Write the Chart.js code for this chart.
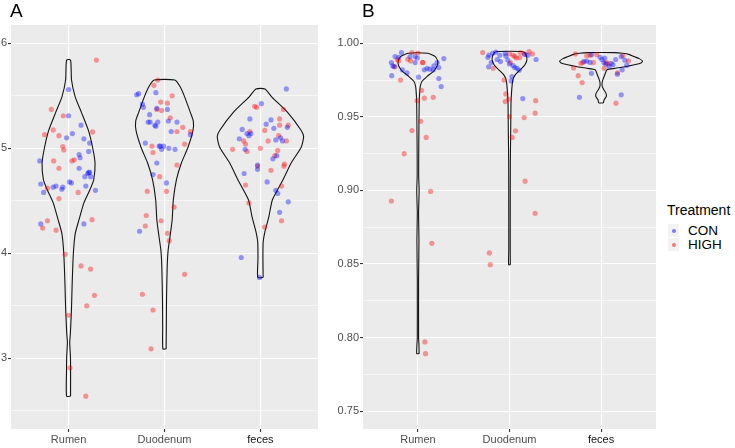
<!DOCTYPE html>
<html>
<head>
<meta charset="utf-8">
<script src="https://cdn.jsdelivr.net/npm/chart.js@4.4.1/dist/chart.umd.min.js"></script>
<style>
  body { margin: 0; background: #fff; width: 735px; height: 448px; overflow: hidden; position: relative; font-family: "Liberation Sans", Arial, sans-serif; }
  canvas { position: absolute; top: 0; }
  .tag { position: absolute; font-size: 19px; line-height: 19px; color: #000; }
  .leg { position: absolute; color: #000; white-space: nowrap; }
  .key { position: absolute; width: 11px; height: 13px; background: #f2f2f2; }
  .dot { position: absolute; left: 3.5px; top: 4.5px; width: 4px; height: 4px; border-radius: 50%; }
</style>
</head>
<body>
<canvas id="chartA" width="322" height="448" style="left:0"></canvas>
<canvas id="chartB" width="338" height="448" style="left:322px"></canvas>

<div class="tag" style="left:10px; top:1px">A</div>
<div class="tag" style="left:362px; top:1px">B</div>

<div class="leg" style="left:667px; top:203px; font-size:14px; line-height:14px">Treatment</div>
<div class="key" style="left:668px; top:224px"><span class="dot" style="background: rgba(0,0,255,0.5)"></span></div>
<div class="key" style="left:668px; top:238px"><span class="dot" style="background: rgba(255,0,0,0.5)"></span></div>
<div class="leg" style="left:688px; top:223.5px; font-size:13.5px; line-height:13.5px">CON</div>
<div class="leg" style="left:688px; top:238px; font-size:13.5px; line-height:13.5px">HIGH</div>

<script>
const groups = ['Rumen', 'Duodenum', 'feces'];

// y ticks (major) for each panel, minor gridlines halfway between
const ticksA = [3, 4, 5, 6];
const gridA = [2.5, 3, 3.5, 4, 4.5, 5, 5.5, 6];
const ticksB = [0.75, 0.80, 0.85, 0.90, 0.95, 1.00];
const gridB = [0.75, 0.775, 0.80, 0.825, 0.85, 0.875, 0.90, 0.925, 0.95, 0.975, 1.00];

// jittered points: [x position (group + jitter), value]
const conA = [
  [1.00,5.56],[1.00,5.31],[1.13,5.22],[1.04,5.14],[0.98,5.10],[1.16,5.09],[1.22,5.05],[1.21,4.97],
  [1.11,4.94],[1.12,4.91],[0.70,4.88],[1.11,4.81],[1.21,4.77],[1.22,4.77],[1.20,4.76],[1.17,4.73],
  [1.23,4.73],[1.01,4.68],[1.03,4.67],[0.71,4.66],[1.18,4.64],[0.87,4.64],[0.84,4.63],[0.94,4.63],
  [0.93,4.61],[1.28,4.60],[0.74,4.58],[0.71,4.28],[1.16,4.28],
  [1.71,5.51],[1.73,5.52],[1.91,5.53],[1.77,5.42],[1.78,5.39],[1.92,5.38],[2.03,5.37],[1.845,5.32],
  [1.83,5.25],[1.85,5.25],[1.93,5.25],[1.90,5.22],[1.91,5.21],[2.04,5.26],[2.13,5.25],[2.07,5.16],
  [2.27,5.13],[1.80,5.05],[1.945,5.02],[1.955,5.02],[1.99,5.02],[1.97,4.99],[2.045,5.00],[2.11,4.99],
  [1.92,4.86],[1.88,4.75],[2.02,4.67],[1.74,4.21],
  [3.27,5.565],[3.01,5.425],[2.89,5.28],[3.11,5.27],[3.06,5.23],[2.81,5.18],[3.14,5.19],[3.28,5.20],
  [2.86,5.14],[2.88,5.12],[2.90,5.14],[2.78,5.09],[3.16,5.08],[3.21,5.10],[3.23,5.07],[2.84,4.99],
  [3.13,4.90],[3.17,4.93],[2.97,4.84],[2.97,4.80],[2.83,4.76],[3.07,4.68],[3.16,4.60],[3.18,4.57],
  [3.29,4.49],[3.20,4.39],[2.80,3.96],[2.99,3.77]
];
const highA = [
  [1.29,5.84],[0.82,5.37],[0.945,5.31],[0.75,5.13],[0.84,5.175],[0.90,5.12],[1.25,5.156],[0.94,5.016],
  [0.95,4.984],[0.845,4.88],[1.035,4.88],[1.06,4.89],[0.90,4.81],[0.78,4.62],[1.10,4.58],[0.90,4.52],
  [0.78,4.31],[0.73,4.24],[0.87,4.22],[1.245,4.32],[0.965,3.99],[1.13,3.88],[1.23,3.85],[1.27,3.60],
  [1.19,3.50],[1.00,3.41],[1.015,2.91],[1.18,2.64],
  [1.93,5.65],[1.89,5.60],[2.08,5.50],[1.96,5.44],[2.03,5.43],[1.92,5.37],[1.97,5.36],[2.06,5.29],
  [2.19,5.20],[2.13,5.16],[2.27,5.16],[2.21,5.04],[1.87,5.02],[1.88,4.96],[2.13,4.84],[1.95,4.73],
  [1.82,4.59],[2.02,4.59],[2.10,4.44],[1.81,4.36],[1.80,4.26],[1.965,4.31],[2.03,4.19],[2.05,4.12],
  [2.21,3.80],[1.77,3.61],[1.88,3.46],[1.86,3.09],
  [2.94,5.40],[2.96,5.39],[3.24,5.37],[3.20,5.28],[3.20,5.22],[3.29,5.22],[3.045,5.17],[2.89,5.16],
  [2.825,5.07],[2.845,5.04],[3.08,5.07],[3.19,5.12],[3.27,5.07],[2.71,4.99],[3.00,5.00],[2.86,4.97],
  [3.18,4.98],[3.15,4.93],[2.97,4.83],[3.25,4.85],[3.245,4.83],[3.11,4.79],[2.845,4.65],[3.22,4.64],
  [2.88,4.48],[3.22,4.31],[3.045,4.25]
];
const conB = [
  [0.82,0.9937],[0.75,0.991],[0.79,0.9905],[0.71,0.9869],[0.725,0.9846],[0.74,0.9842],[0.97,0.991],
  [0.993,0.990],[0.913,0.991],[0.97,0.9869],[0.83,0.982],[0.88,0.980],[1.07,0.982],[1.10,0.983],
  [1.13,0.9824],[1.167,0.982],[1.174,0.9846],[1.21,0.9869],[1.228,0.9835],[1.283,0.9896],[1.007,0.977],
  [0.714,0.978],[1.228,0.976],[1.254,0.9706],
  [1.775,0.992],[1.764,0.9905],[1.815,0.9932],[1.85,0.994],[1.953,0.9932],[1.96,0.9914],[1.895,0.9919],
  [1.866,0.989],[1.902,0.9876],[1.80,0.9869],[1.772,0.984],[1.982,0.9887],[2.0,0.986],[2.04,0.9848],
  [2.058,0.9835],[2.083,0.983],[2.105,0.9817],[2.167,0.9925],[2.2,0.9919],[2.29,0.989],[2.025,0.9774],
  [2.018,0.9744],[2.145,0.9624],
  [2.895,0.9923],[2.815,0.9878],[2.844,0.9878],[2.88,0.987],[2.99,0.9905],[3.01,0.989],[3.04,0.99],
  [3.03,0.9869],[3.05,0.986],[3.11,0.9864],[3.13,0.9855],[3.16,0.989],[3.087,0.9842],[2.895,0.9796],
  [3.178,0.979],[2.764,0.9633],[3.22,0.991],[3.26,0.9885],[3.28,0.985],[3.23,0.982],[3.22,0.965]
];
const highB = [
  [0.935,0.9937],[1.0,0.9934],[0.89,0.9891],[0.92,0.988],[0.775,0.989],[0.79,0.988],[0.75,0.984],
  [1.05,0.987],[1.055,0.9869],[0.81,0.975],[1.04,0.968],[0.99,0.961],[1.07,0.9627],[1.167,0.9633],
  [1.03,0.947],[0.935,0.9407],[1.09,0.936],[0.85,0.925],[0.71,0.8928],[1.138,0.8993],[1.152,0.864],
  [1.076,0.797],[1.083,0.789],
  [1.707,0.9937],[2.0,0.9928],[2.04,0.9919],[2.12,0.9937],[2.163,0.9928],[2.214,0.9943],[2.25,0.9928],
  [2.058,0.991],[2.076,0.990],[2.112,0.9903],[2.01,0.9869],[1.822,0.983],[1.94,0.975],[1.96,0.9656],
  [1.99,0.962],[1.953,0.9604],[2.286,0.961],[2.28,0.9525],[2.0,0.9502],[2.16,0.9495],[2.065,0.9405],
  [2.03,0.936],[2.17,0.9063],[2.28,0.8844],[1.78,0.8575],[1.79,0.8495],
  [2.72,0.9928],[2.844,0.9914],[2.88,0.9919],[2.953,0.9923],[2.78,0.9864],[2.80,0.9869],[2.917,0.9869],
  [3.06,0.9869],[3.076,0.986],[2.70,0.9833],[2.75,0.978],[2.793,0.9733],[3.033,0.983],[3.163,0.9593],
  [3.24,0.9915],[3.30,0.988],[3.18,0.98]
];

// violin profiles: [value, half width], bottom to top
const violinRumenA = [[2.64,0.021],[2.9,0.021],[3.01,0.02],[3.15,0.012],[3.24,0.019],[3.46,0.03],[3.72,0.038],
  [4.0,0.05],[4.19,0.07],[4.32,0.109],[4.48,0.16],[4.60,0.22],[4.70,0.262],[4.86,0.276],[5.01,0.25],
  [5.17,0.207],[5.34,0.135],[5.49,0.069],[5.65,0.031],[5.84,0.021]];
const violinDuodA = [[3.09,0.017],[3.3,0.019],[3.56,0.021],[3.87,0.028],[4.03,0.038],[4.19,0.062],[4.32,0.08],
  [4.51,0.092],[4.70,0.124],[4.86,0.176],[5.01,0.245],[5.17,0.297],[5.26,0.3],[5.34,0.27],[5.49,0.21],
  [5.59,0.16],[5.65,0.107]];
const violinFecesA = [[3.77,0.028],[3.94,0.026],[4.10,0.028],[4.19,0.043],[4.35,0.088],[4.51,0.125],[4.70,0.235],
  [4.86,0.32],[5.01,0.425],[5.11,0.45],[5.17,0.425],[5.34,0.285],[5.49,0.117],[5.565,0.047]];
const violinRumenB = [[0.789,0.013],[0.795,0.011],[0.80,0.007],[0.84,0.007],[0.865,0.011],[0.885,0.007],[0.90,0.013],
  [0.91,0.008],[0.93,0.009],[0.957,0.013],[0.9638,0.016],[0.9706,0.025],[0.974,0.043],[0.9774,0.098],
  [0.9808,0.167],[0.9842,0.207],[0.9876,0.217],[0.991,0.19],[0.9932,0.109]];
const violinDuodB = [[0.8495,0.009],[0.86,0.008],[0.88,0.008],[0.92,0.009],[0.94,0.013],[0.959,0.016],[0.968,0.024],
  [0.975,0.036],[0.9785,0.062],[0.982,0.117],[0.9853,0.167],[0.9887,0.19],[0.992,0.181],[0.9943,0.149]];
const violinFecesB = [[0.9595,0.025],[0.9615,0.033],[0.964,0.058],[0.966,0.054],[0.9685,0.03],[0.9705,0.013],
  [0.973,0.011],[0.975,0.018],[0.9785,0.04],[0.982,0.065],[0.983,0.156],[0.9846,0.3],[0.9864,0.43],
  [0.9878,0.453],[0.9896,0.417],[0.991,0.36],[0.9923,0.31],[0.9932,0.235],[0.9937,0.145]];

const conColor = 'rgba(0, 0, 255, 0.38)';
const highColor = 'rgba(255, 0, 0, 0.38)';
const font = { family: '"Liberation Sans", Arial, sans-serif', size: 11 };

// grey panel background like ggplot
const panelBg = {
    id: 'panelBg',
    beforeDraw(chart) {
        const { ctx, chartArea: a } = chart;
        ctx.save();
        ctx.fillStyle = '#EBEBEB';
        ctx.fillRect(a.left, a.top, a.right - a.left, a.bottom - a.top);
        ctx.restore();
    }
};

function violinOutline(profile, center) {
    const right = profile.map(([v, w]) => ({ x: center + w, y: v }));
    const left = profile.slice().reverse().map(([v, w]) => ({ x: center - w, y: v }));
    return right.concat(left, [right[0]]);
}

function violinSet(profile, center) {
    return {
        data: violinOutline(profile, center),
        showLine: true,
        pointRadius: 0,
        borderColor: '#141414',
        borderWidth: 1.1,
        tension: 0.2,
        fill: false,
        order: 2
    };
}

function pointSet(pairs, color) {
    return {
        data: pairs.map(([x, y]) => ({ x, y })),
        backgroundColor: color,
        borderWidth: 0,
        pointRadius: 2.6,
        order: 1
    };
}

function makePanel(id, datasets, yMin, yMax, grid, major, fmt, yWidth, padRight) {
    const isMajor = v => major.some(m => Math.abs(m - v) < 1e-9);
    return new Chart(document.getElementById(id), {
        type: 'scatter',
        data: { datasets },
        plugins: [panelBg],
        options: {
            responsive: false,
            animation: false,
            devicePixelRatio: 1,
            events: [],
            layout: { padding: { top: 25, right: padRight, left: 0, bottom: 0 } },
            plugins: { legend: { display: false }, tooltip: { enabled: false } },
            scales: {
                x: {
                    type: 'linear',
                    min: 0.4,
                    max: 3.6,
                    afterBuildTicks: s => { s.ticks = [1, 2, 3].map(v => ({ value: v })); },
                    afterFit: s => { s.height = 19; },
                    border: { display: false },
                    grid: { color: '#fff', lineWidth: 1.1, tickColor: '#333', tickLength: 3 },
                    ticks: {
                        font,
                        padding: 1,
                        maxRotation: 0,
                        autoSkip: false,
                        color: c => (c.index === 2 ? '#111' : '#4d4d4d'),
                        callback: v => groups[v - 1]
                    }
                },
                y: {
                    min: yMin,
                    max: yMax,
                    afterBuildTicks: s => { s.ticks = grid.map(v => ({ value: v })); },
                    afterFit: s => { s.width = yWidth; },
                    border: { display: false },
                    grid: {
                        color: '#fff',
                        lineWidth: c => (isMajor(c.tick.value) ? 1.1 : 0.55),
                        tickColor: c => (isMajor(c.tick.value) ? '#333' : 'rgba(0,0,0,0)'),
                        tickLength: 3
                    },
                    ticks: {
                        font,
                        padding: 1,
                        autoSkip: false,
                        color: '#4d4d4d',
                        callback: v => (isMajor(v) ? fmt(v) : '')
                    }
                }
            }
        }
    });
}

makePanel('chartA', [
    pointSet(conA, conColor),
    pointSet(highA, highColor),
    violinSet(violinRumenA, 1),
    violinSet(violinDuodA, 2),
    violinSet(violinFecesA, 3)
], 2.327, 6.174, gridA, ticksA, v => String(v), 11, 3);

makePanel('chartB', [
    pointSet(conB, conColor),
    pointSet(highB, highColor),
    violinSet(violinRumenB, 1),
    violinSet(violinDuodB, 2),
    violinSet(violinFecesB, 3)
], 0.7378, 1.01245, gridB, ticksB, v => v.toFixed(2), 41, 4);
</script>
</body>
</html>
